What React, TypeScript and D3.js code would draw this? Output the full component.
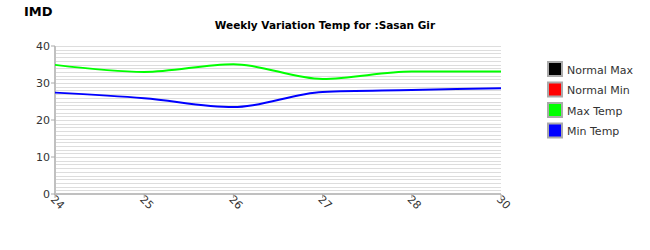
import React from "react";
import * as d3 from "d3";

const categories = ["24", "25", "26", "27", "28", "30"];
const maxTemp = [34.9, 33.0, 35.1, 31.1, 33.1, 33.1];
const minTemp = [27.4, 25.9, 23.5, 27.6, 28.1, 28.6];
const yTicks = [0, 10, 20, 30, 40];
const legendItems = [
  { label: "Normal Max", color: "#000000" },
  { label: "Normal Min", color: "#ff0000" },
  { label: "Max Temp", color: "#00ff00" },
  { label: "Min Temp", color: "#0000ff" },
];

const W = 650, H = 250;
const left = 55, right = 501, top = 46, bottom = 194;

export default function App() {
  const x = d3.scalePoint<string>().domain(categories).range([left, right]);
  const y = d3.scaleLinear().domain([0, 40]).range([bottom, top]);
  const line = d3
    .line<number>()
    .x((_, i) => x(categories[i]) as number)
    .y((d) => y(d))
    .curve(d3.curveMonotoneX);
  const grid = d3.range(1, 41);
  const font = "DejaVu Sans, sans-serif";
  return (
    <svg
      width={W}
      height={H}
      style={{ position: "absolute", left: 0, top: 0, background: "#fff" }}
      fontFamily={font}
    >
      <text x={24} y={16} fontSize={13} fontWeight="bold" fill="#000">IMD</text>
      <text x={325} y={29} fontSize={10.5} fontWeight="bold" textAnchor="middle" fill="#000">
        Weekly Variation Temp for :Sasan Gir
      </text>
      {grid.map((g) => (
        <line key={g} x1={left} x2={right} y1={Math.round(y(g)) + 0.5} y2={Math.round(y(g)) + 0.5} stroke="#dddddd" strokeWidth={1} />
      ))}
      <line x1={left} x2={left} y1={top} y2={bottom + 1} stroke="#c0c0c0" strokeWidth={2} />
      <line x1={left - 1} x2={right} y1={bottom} y2={bottom} stroke="#c0c0c0" strokeWidth={2} />
      {yTicks.map((t) => (
        <g key={t}>
          <line x1={left - 4} x2={left} y1={y(t)} y2={y(t)} stroke="#aaaaaa" strokeWidth={1} />
          <text x={left - 5} y={y(t) + 4} fontSize={11} textAnchor="end" fill="#333">{t}</text>
        </g>
      ))}
      {categories.map((c) => {
        const cx = x(c) as number;
        return (
          <g key={c}>
            <line x1={cx} x2={cx} y1={bottom} y2={bottom + 4} stroke="#aaaaaa" strokeWidth={1} />
            <text
              transform={`translate(${cx - 5},${bottom + 6}) rotate(45)`}
              fontSize={11}
              fill="#333"
            >
              {c}
            </text>
          </g>
        );
      })}
      <path d={line(maxTemp) || ""} fill="none" stroke="#00ff00" strokeWidth={2} />
      <path d={line(minTemp) || ""} fill="none" stroke="#0000ff" strokeWidth={2} />
      {legendItems.map((it, i) => (
        <g key={it.label} transform={`translate(548,${62 + i * 20.5})`}>
          <rect x={0} y={0} width={14} height={14} fill={it.color} stroke="#aaaaaa" strokeWidth={2} />
          <text x={19} y={11.5} fontSize={11} fill="#333">{it.label}</text>
        </g>
      ))}
    </svg>
  );
}
